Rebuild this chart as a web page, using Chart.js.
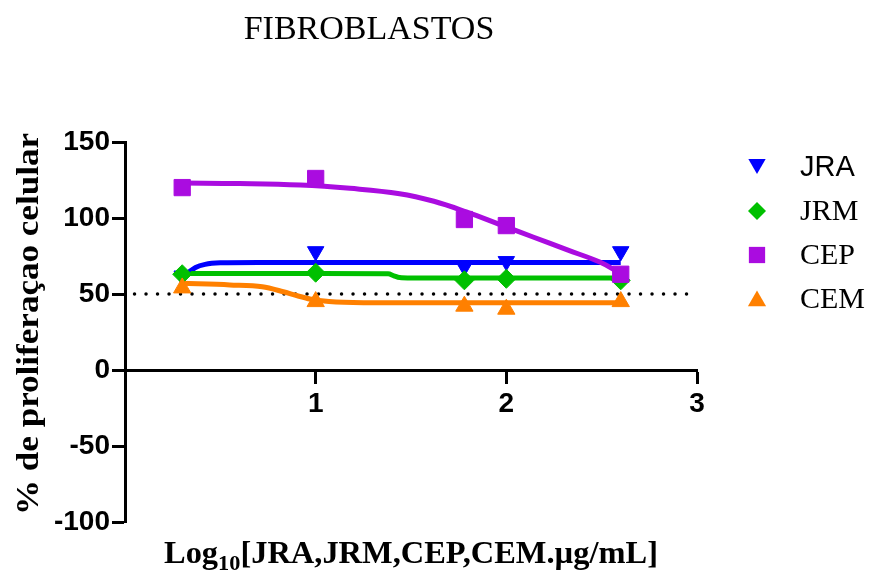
<!DOCTYPE html>
<html>
<head>
<meta charset="utf-8">
<script src="https://cdn.jsdelivr.net/npm/chart.js@4.4.1/dist/chart.umd.min.js"></script>
<style>
  html, body { margin: 0; padding: 0; background: #fff; }
  #wrap { width: 871px; height: 570px; position: relative; }
</style>
</head>
<body>
<div id="wrap"><canvas id="fibroChart"></canvas></div>
<script>
// log10 of the concentrations (2, 10, 60, 100, 400 ug/mL)
var doses = [0.3, 1, 1.78, 2, 2.6];

var jra = [62, 78, 68, 71.5, 78];
var jrm = [63, 64, 59, 60, 59];
var cep = [120, 126, 99, 95, 63];
var cem = [54, 45, 42, 40, 45];

// fitted curves
var jraFitX = [0.3, 0.33, 0.37, 0.42, 0.5, 0.7, 1, 1.5, 2, 2.6];
var jraFitY = [61, 64, 67.5, 69.5, 70.5, 70.8, 70.8, 70.8, 70.8, 70.8];
var jrmFitX = [0.3, 1, 1.38, 1.41, 1.44, 1.5, 2, 2.6];
var jrmFitY = [63.5, 63.5, 63.3, 62, 60.8, 60.5, 60.5, 60.5];
var cepFitX = [0.3, 0.6, 0.92, 1.18, 1.44, 1.62, 1.79, 1.97, 2.14, 2.32, 2.49, 2.6];
var cepFitY = [123, 122.7, 121.7, 119.5, 116, 111, 104, 95.5, 87.5, 79, 71, 63.5];
var cemFitX = [0.3, 0.55, 0.72, 0.83, 0.9, 0.97, 1.07, 1.25, 2, 2.6];
var cemFitY = [57, 56, 54.8, 51.5, 49, 46.7, 45, 44.3, 44.3, 44.3];

// 50% reference line
var refX = [0.05, 3];
var refY = [50, 50];

var xTicks = [1, 2, 3];
var yTicks = [-100, -50, 0, 50, 100, 150];

var names = ["JRA", "JRM", "CEP", "CEM"];
var colors = ["#0000ff", "#00c000", "#aa0ce0", "#ff8000"];

function pts(xs, ys) {
  return xs.map(function (x, i) { return { x: x, y: ys[i] }; });
}

function markers(label, ys, color, style, r, rot) {
  return {
    label: label,
    data: pts(doses, ys),
    showLine: false,
    pointStyle: style,
    pointRadius: r,
    pointRotation: rot || 0,
    backgroundColor: color,
    borderColor: color,
    pointBorderWidth: 1,
  };
}

function curve(xs, ys, color, smooth) {
  var ds = {
    data: pts(xs, ys),
    showLine: true,
    pointRadius: 0,
    borderColor: color,
    borderWidth: 5,
    fill: false,
  };
  if (smooth) ds.tension = 0.4;
  else ds.cubicInterpolationMode = "monotone";
  return ds;
}

var SERIF = "'Liberation Serif', 'Times New Roman', serif";
var SANS = "'Liberation Sans', Arial, sans-serif";

var textPlugin = {
  id: "texts",
  afterDraw: function (chart) {
    var ctx = chart.ctx;
    ctx.save();
    ctx.fillStyle = "#000";

    // title
    ctx.font = "34px " + SERIF;
    ctx.textAlign = "center";
    ctx.textBaseline = "alphabetic";
    ctx.fillText("FIBROBLASTOS", 369, 39);

    // y title, stretched to the length in the picture
    ctx.font = "bold 32px " + SERIF;
    var yt = "% de proliferaçao celular";
    var yw = ctx.measureText(yt).width;
    ctx.save();
    ctx.translate(38, 324);
    ctx.rotate(-Math.PI / 2);
    ctx.scale(382 / yw, 1);
    ctx.fillText(yt, 0, 0);
    ctx.restore();

    // x title with subscript
    var a = "Log", sub = "10", b = "[JRA,JRM,CEP,CEM.µg/mL]";
    ctx.font = "bold 32px " + SERIF;
    var wa = ctx.measureText(a).width, wb = ctx.measureText(b).width;
    ctx.font = "bold 22px " + SERIF;
    var ws = ctx.measureText(sub).width;
    var s = 494 / (wa + ws + wb);
    ctx.save();
    ctx.translate(164, 563);
    ctx.scale(s, 1);
    ctx.textAlign = "left";
    ctx.font = "bold 32px " + SERIF;
    ctx.fillText(a, 0, 0);
    ctx.font = "bold 22px " + SERIF;
    ctx.fillText(sub, wa, 7);
    ctx.font = "bold 32px " + SERIF;
    ctx.fillText(b, wa + ws, 0);
    ctx.restore();

    // legend
    var ly = [164, 211, 255, 301];
    var ty = [168, 212, 256, 300];
    var styles = [["triangle", 10, 180], ["rectRot", 9, 0], ["rect", 11.5, 0], ["triangle", 10.5, 0]];
    ctx.textAlign = "left";
    ctx.textBaseline = "middle";
    for (var i = 0; i < names.length; i++) {
      ctx.fillStyle = colors[i];
      ctx.strokeStyle = colors[i];
      Chart.helpers.drawPoint(ctx, { pointStyle: styles[i][0], radius: styles[i][1], rotation: styles[i][2], borderWidth: 0 }, 757, ly[i]);
      ctx.fillStyle = "#000";
      ctx.font = i === 0 ? "29px " + SANS : "30px " + SERIF;
      ctx.fillText(names[i], 800, ty[i]);
    }
    ctx.restore();
  },
};

document.addEventListener("DOMContentLoaded", function () {
  var ctx = document.getElementById("fibroChart").getContext("2d");
  var tickFont = { family: SANS, size: 28, weight: "bold" };
  new Chart(ctx, {
    type: "scatter",
    data: {
      datasets: [
        markers("CEP", cep, colors[2], "rect", 11.5),
        markers("CEM", cem, colors[3], "triangle", 10),
        markers("JRM", jrm, colors[1], "rectRot", 9.5),
        markers("JRA", jra, colors[0], "triangle", 9.5, 180),
        curve(cepFitX, cepFitY, colors[2], true),
        curve(cemFitX, cemFitY, colors[3]),
        curve(jrmFitX, jrmFitY, colors[1]),
        curve(jraFitX, jraFitY, colors[0]),
        {
          data: pts(refX, refY),
          showLine: true,
          pointRadius: 0,
          borderColor: "#000",
          borderWidth: 3.5,
          borderDash: [0, 11.5],
          borderCapStyle: "round",
        },
      ],
    },
    plugins: [textPlugin],
    options: {
      responsive: true,
      maintainAspectRatio: false,
      animation: false,
      layout: { padding: { top: 142, right: 174, bottom: 48, left: 0 } },
      plugins: { legend: { display: false }, tooltip: { enabled: false } },
      scales: {
        x: {
          type: "linear",
          position: { y: 0 },
          min: 0,
          max: 3,
          afterBuildTicks: function (sc) {
            sc.ticks = [0].concat(xTicks).map(function (v) { return { value: v }; });
          },
          ticks: {
            color: "#000",
            font: tickFont,
            padding: 5,
            maxRotation: 0,
            callback: function (v) { return v === 0 ? "" : v; },
          },
          grid: { drawOnChartArea: false, tickLength: 12, tickWidth: 3, tickColor: "#000" },
          border: { color: "#000", width: 3 },
          afterFit: function (sc) { sc.paddingLeft = 0; sc.paddingRight = 0; },
        },
        y: {
          type: "linear",
          position: "left",
          min: -100,
          max: 150,
          afterBuildTicks: function (sc) {
            sc.ticks = yTicks.map(function (v) { return { value: v }; });
          },
          ticks: { color: "#000", font: tickFont, padding: 2 },
          grid: { drawOnChartArea: false, tickLength: 13, tickWidth: 3, tickColor: "#000" },
          border: { color: "#000", width: 3 },
          afterFit: function (sc) { sc.width = 125; sc.paddingTop = 0; sc.paddingBottom = 0; },
        },
      },
    },
  });
});
</script>
</body>
</html>
